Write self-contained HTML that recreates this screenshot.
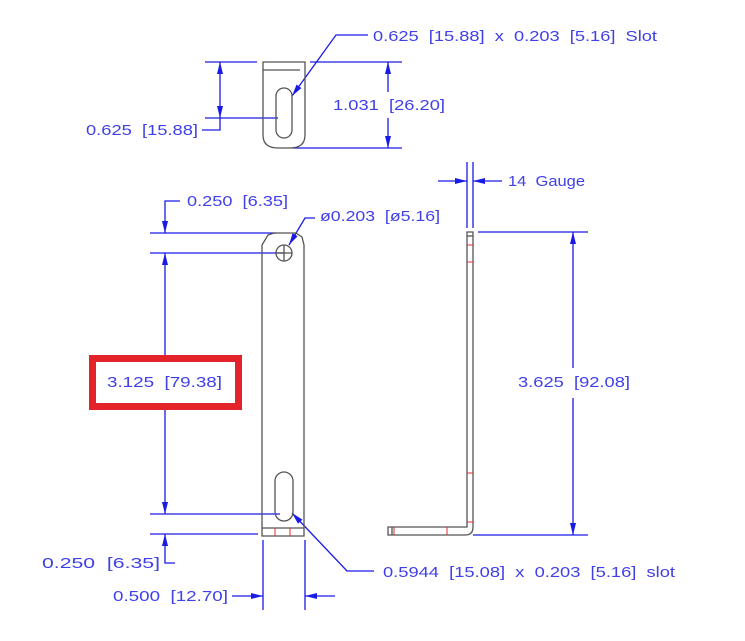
<!DOCTYPE html>
<html><head><meta charset="utf-8"><style>
html,body{margin:0;padding:0;background:#fff;}
svg{display:block;}
text{font-family:"Liberation Sans",sans-serif;font-size:15px;fill:#4040e8;white-space:pre;}
</style></head><body>
<svg width="745" height="641" viewBox="0 0 745 641" xmlns="http://www.w3.org/2000/svg" xml:space="preserve">
<defs>
<marker id="a" viewBox="0 0 12 6" refX="12" refY="3" markerWidth="12" markerHeight="6" orient="auto" markerUnits="userSpaceOnUse"><path d="M0,0 L12,3 L0,6 Z" fill="#1a1ae6"/></marker>
</defs>
<g stroke="#1a1ae6" stroke-width="1.3" fill="none">
<line x1="205" y1="62" x2="257" y2="62"/>
<line x1="205" y1="118" x2="278" y2="118"/>
<line x1="220" y1="90" x2="220" y2="62" marker-end="url(#a)"/>
<line x1="220" y1="90" x2="220" y2="118" marker-end="url(#a)"/>
<polyline points="220,118 220,130 202,130"/>
<line x1="310" y1="62" x2="402" y2="62"/>
<line x1="292" y1="148" x2="402" y2="148"/>
<line x1="388" y1="92" x2="388" y2="62" marker-end="url(#a)"/>
<line x1="388" y1="118" x2="388" y2="148" marker-end="url(#a)"/>
<polyline points="368,35 336,35 292,96" marker-end="url(#a)"/>
<line x1="150" y1="233" x2="276" y2="233"/>
<line x1="150" y1="253" x2="284" y2="253"/>
<polyline points="180,201 165,201 165,233" marker-end="url(#a)"/>
<line x1="165" y1="370" x2="165" y2="253" marker-end="url(#a)"/>
<line x1="165" y1="400" x2="165" y2="514" marker-end="url(#a)"/>
<line x1="150" y1="514" x2="280" y2="514"/>
<line x1="150" y1="534" x2="258" y2="534"/>
<polyline points="175,563 165,563 165,534" marker-end="url(#a)"/>
<line x1="263" y1="540" x2="263" y2="610"/>
<line x1="305" y1="540" x2="305" y2="610"/>
<line x1="232" y1="596" x2="263" y2="596" marker-end="url(#a)"/>
<line x1="335" y1="596" x2="305" y2="596" marker-end="url(#a)"/>
<polyline points="374,571 347,571 292,513" marker-end="url(#a)"/>
<polyline points="315,218 305,218 289,245" marker-end="url(#a)"/>
<line x1="467" y1="162" x2="467" y2="228"/>
<line x1="473" y1="162" x2="473" y2="228"/>
<line x1="438" y1="181" x2="467" y2="181" marker-end="url(#a)"/>
<line x1="502" y1="181" x2="473" y2="181" marker-end="url(#a)"/>
<line x1="478" y1="232" x2="588" y2="232"/>
<line x1="473" y1="535" x2="588" y2="535"/>
<line x1="573" y1="368" x2="573" y2="232" marker-end="url(#a)"/>
<line x1="573" y1="398" x2="573" y2="535" marker-end="url(#a)"/>
</g>
<g stroke="#555" stroke-width="1.3" fill="none">
<path d="M263,62 L305,62 L305,135 Q305,148 290,148 L278,148 Q263,148 263,135 Z"/>
<line x1="263" y1="70" x2="300" y2="70"/>
<rect x="276" y="88" width="16" height="50" rx="8"/>
<path d="M262,245 L268,235 L274,233 L296,233 L302,237 L304,245 L304,536 L262,536 Z"/>
<circle cx="284" cy="253" r="8"/>
<line x1="276" y1="253" x2="292" y2="253"/><line x1="284" y1="245" x2="284" y2="261"/>
<rect x="275" y="472" width="18" height="49" rx="9"/>
<line x1="262" y1="528" x2="304" y2="528"/>
<path d="M467,232 L473,232 L473,527 Q473,535 465,535 L388,535 L388,527 L467,527 Z"/>
<line x1="467" y1="236" x2="473" y2="236"/>
<line x1="392" y1="527" x2="392" y2="535"/>
</g>
<g stroke="#e03030" stroke-width="1">
<line x1="275" y1="528" x2="275" y2="536"/><line x1="290" y1="528" x2="290" y2="536"/>
<line x1="467" y1="245" x2="473" y2="245"/><line x1="467" y1="262" x2="473" y2="262"/>
<line x1="467" y1="473" x2="473" y2="473"/><line x1="467" y1="522" x2="473" y2="522"/>
<line x1="394" y1="527" x2="394" y2="535"/><line x1="447" y1="527" x2="447" y2="535"/>
</g>
<rect x="92.5" y="358.5" width="146" height="48" fill="#fff" stroke="#e4222a" stroke-width="7"/>
<text x="373" y="41" textLength="284" lengthAdjust="spacingAndGlyphs">0.625  [15.88]  x  0.203  [5.16]  Slot</text>
<text x="86" y="135" textLength="112" lengthAdjust="spacingAndGlyphs">0.625  [15.88]</text>
<text x="333" y="110" textLength="112" lengthAdjust="spacingAndGlyphs">1.031  [26.20]</text>
<text x="508" y="186" textLength="77" lengthAdjust="spacingAndGlyphs">14  Gauge</text>
<text x="187" y="206" textLength="101" lengthAdjust="spacingAndGlyphs">0.250  [6.35]</text>
<text x="320" y="221" textLength="120" lengthAdjust="spacingAndGlyphs">ø0.203  [ø5.16]</text>
<text x="107" y="387" textLength="115" lengthAdjust="spacingAndGlyphs">3.125  [79.38]</text>
<text x="518" y="387" textLength="112" lengthAdjust="spacingAndGlyphs">3.625  [92.08]</text>
<text x="42" y="568" textLength="118" lengthAdjust="spacingAndGlyphs">0.250  [6.35]</text>
<text x="383" y="577" textLength="292" lengthAdjust="spacingAndGlyphs">0.5944  [15.08]  x  0.203  [5.16]  slot</text>
<text x="113" y="601" textLength="115" lengthAdjust="spacingAndGlyphs">0.500  [12.70]</text>
</svg>
</body></html>
